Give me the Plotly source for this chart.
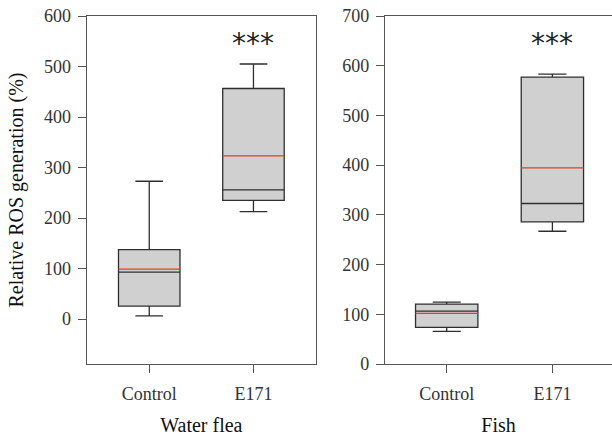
import plotly.graph_objects as go

categories = ["Control", "E171"]

# Water flea (left panel)
wf_lower = [6.5, 213]
wf_q1 = [26, 235]
wf_median = [93, 256]
wf_mean = [99, 323]
wf_q3 = [137.5, 456.5]
wf_upper = [273, 505]

# Fish (right panel)
fi_lower = [65.5, 267]
fi_q1 = [73.6, 286]
fi_median = [106.5, 322.8]
fi_mean = [101.7, 394.5]
fi_q3 = [120.6, 577]
fi_upper = [124.6, 583]

panel_titles = ["Water flea", "Fish"]
y_title = "Relative ROS generation (%)"
sig_label = "***"

W, H = 612, 443
BOX_LINE = "#2e2e2e"
BOX_FILL = "#d0d0d0"
MEAN_COLOR = "#e4401c"
AXIS_COLOR = "#555555"
TXT = "#333333"
SERIF = "Liberation Serif, Times New Roman, serif"

fig = go.Figure()

def add_panel(xa, ya, lower, q1, med, mean, q3, upper):
    fig.add_trace(go.Box(
        x=categories, q1=q1, median=med, q3=q3,
        lowerfence=lower, upperfence=upper,
        width=0.59, whiskerwidth=0.45,
        fillcolor=BOX_FILL, line=dict(color=BOX_LINE, width=1.3),
        boxpoints=False, showlegend=False, hoverinfo="skip",
        xaxis=xa, yaxis=ya,
    ))
    # mean line drawn as a flat box at the mean value
    fig.add_trace(go.Box(
        x=categories, q1=mean, median=mean, q3=mean,
        lowerfence=mean, upperfence=mean,
        width=0.59, whiskerwidth=0.0,
        fillcolor="rgba(0,0,0,0)", line=dict(color=MEAN_COLOR, width=1.3),
        boxpoints=False, showlegend=False, hoverinfo="skip",
        xaxis=xa, yaxis=ya,
    ))

add_panel("x", "y", wf_lower, wf_q1, wf_median, wf_mean, wf_q3, wf_upper)
add_panel("x2", "y2", fi_lower, fi_q1, fi_median, fi_mean, fi_q3, fi_upper)

ydom = [1 - 364 / H, 1 - 16 / H]

axis_common = dict(
    showgrid=False, zeroline=False, showline=True, linecolor=AXIS_COLOR,
    linewidth=1.3, ticks="outside", ticklen=8, tickcolor=AXIS_COLOR,
    tickwidth=1.3, tickfont=dict(family=SERIF, size=18, color=TXT),
    automargin=False,
)
TITLE_FONT = dict(family=SERIF, size=20, color="#111")

fig.update_layout(
    width=W, height=H, margin=dict(l=0, r=0, t=0, b=0),
    paper_bgcolor="white", plot_bgcolor="white", boxmode="overlay",
    xaxis=dict(domain=[86.7 / W, 316 / W], range=[-0.6, 1.6], anchor="y",
               mirror=True, ticklabelstandoff=5,
               title=dict(text=panel_titles[0], font=TITLE_FONT, standoff=15),
               **axis_common),
    yaxis=dict(domain=ydom, range=[-88.7, 600], anchor="x", mirror=True,
               tickvals=[0, 100, 200, 300, 400, 500, 600],
               ticklabelstandoff=3,
               title=dict(text=y_title, font=TITLE_FONT, standoff=14),
               **axis_common),
    xaxis2=dict(domain=[385 / W, 1.0], range=[-0.584, 1.564], anchor="y2",
                mirror=True, ticklabelstandoff=5,
                title=dict(text=panel_titles[1], font=TITLE_FONT, standoff=15),
                **axis_common),
    yaxis2=dict(domain=ydom, range=[0, 700], anchor="x2", mirror=False,
                tickvals=[0, 100, 200, 300, 400, 500, 600, 700],
                ticklabelstandoff=3,
                **axis_common),
    annotations=[
        dict(x=1, y=545, xref="x", yref="y", text=sig_label, showarrow=False,
             font=dict(family="DejaVu Sans", size=28, color="#222"), yanchor="middle"),
        dict(x=1, y=645, xref="x2", yref="y2", text=sig_label, showarrow=False,
             font=dict(family="DejaVu Sans", size=28, color="#222"), yanchor="middle"),
    ],
)

fig.write_html("out.html", config={"displayModeBar": False},
               post_script="document.body.style.margin='0';")
